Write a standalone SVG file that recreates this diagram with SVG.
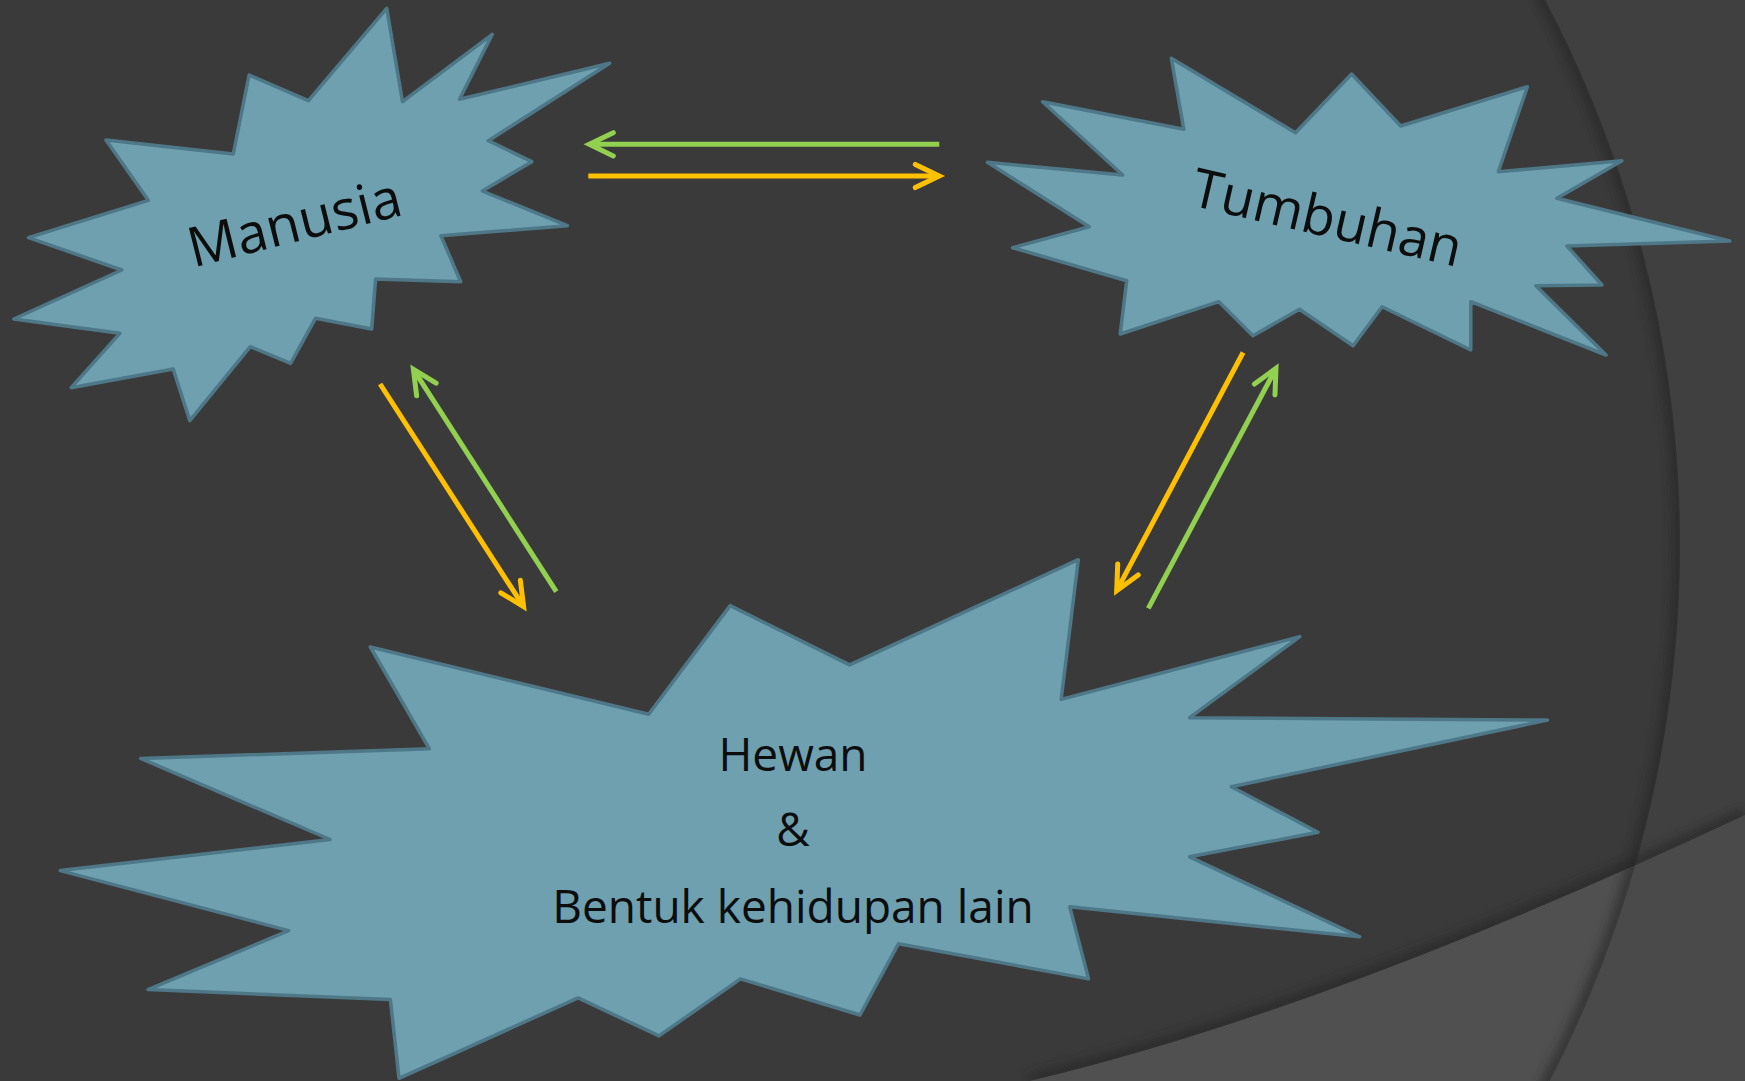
<svg xmlns="http://www.w3.org/2000/svg" width="1745" height="1081" viewBox="0 0 1745 1081">
<defs>
<style>
.star{fill:#6EA0B0;stroke:#4E7887;stroke-width:3.5;stroke-linejoin:round}
.lbl{font-family:"Open Sans","Noto Sans","Liberation Sans",sans-serif;fill:#0D0D0D}
.g{stroke:#92D050;stroke-width:5;fill:none}
.y{stroke:#FFC000;stroke-width:5;fill:none}
</style>
<clipPath id="circ"><circle cx="512" cy="545" r="1168"/></clipPath>
<filter id="blur" x="-10%" y="-10%" width="120%" height="120%"><feGaussianBlur stdDeviation="5"/></filter>
<marker id="ag" markerUnits="userSpaceOnUse" orient="auto" refX="0" refY="0" markerWidth="40" markerHeight="40" viewBox="-30 -20 40 40" overflow="visible">
<path d="M-24,-11.6 L0,0 L-24,11.6" fill="none" stroke="#92D050" stroke-width="5" stroke-linecap="round" stroke-linejoin="miter"/>
</marker>
<marker id="ay" markerUnits="userSpaceOnUse" orient="auto" refX="0" refY="0" markerWidth="40" markerHeight="40" viewBox="-30 -20 40 40" overflow="visible">
<path d="M-24,-11.6 L0,0 L-24,11.6" fill="none" stroke="#FFC000" stroke-width="5" stroke-linecap="round" stroke-linejoin="miter"/>
</marker>
</defs>

<g id="background">
<rect x="0" y="0" width="1745" height="1081" fill="#404040"/>
<circle cx="512" cy="545" r="1168" fill="#3A3A3A"/>
<path d="M1030,1081 Q1330,1010 1745,815" fill="none" stroke="#262626" stroke-width="16" opacity="0.6" filter="url(#blur)"/>
<path d="M1030,1081 Q1330,1010 1745,815 L1745,1081 Z" fill="#4A4A4A"/>
<g clip-path="url(#circ)">
<path d="M1030,1081 Q1330,1010 1745,815 L1745,1081 Z" fill="#505050"/>
<circle cx="512" cy="545" r="1168" fill="none" stroke="#262626" stroke-width="16" opacity="0.6" filter="url(#blur)"/>
</g>
</g>

<g id="node-manusia">
<polygon class="star" points="386.7,8.3 402.5,101.7 492.3,34.3 459.5,99.3 609.7,63.3 488.3,140.7 531.8,161.7 482.4,191 567.4,225.7 440.9,235.7 460.7,281.7 375.6,279 371.7,329 315.5,318.3 290.6,363.3 250.3,346.7 189.8,420.7 173.2,369 71.2,387.7 119.8,333.3 13.8,319 121.8,270 28.5,237.7 148.3,200.3 106,140 233.3,154 249.1,75 308.4,100.7"/>
<text class="lbl" x="299" y="241" font-size="55" text-anchor="middle" transform="rotate(-14 299 241)">Manusia</text>
</g>

<g id="node-tumbuhan">
<polygon class="star" points="1171.3,58.3 1295.5,132.7 1351.6,74 1400.7,126 1527.4,86.7 1498.3,171.7 1622,160.7 1556.9,198.3 1729.7,241 1566.9,246 1602,285 1535.9,285.7 1606,355 1470.8,301.7 1470.8,350 1382.1,306.7 1353.1,345.7 1299.5,309.3 1252.9,335.7 1218.9,301.7 1120.2,334 1126.7,280.7 1012.6,247.7 1089.2,226.7 987.5,162.3 1122.7,175 1042.6,101.7 1183.8,129.3"/>
<text class="lbl" x="1323" y="236" font-size="54" text-anchor="middle" transform="rotate(13 1323 236)">Tumbuhan</text>
</g>

<g id="node-hewan">
<polygon class="star" points="730.2,605.6 849.6,664.9 1078.3,559.7 1061.2,699.4 1299.8,636.6 1189.6,717.7 1547.5,720.1 1231.3,786.7 1318,832.3 1189.6,856.8 1359.7,936.8 1069.7,906.8 1088.6,978.9 898.5,943.7 860,1015 740.5,978.9 659,1035.9 578.1,997.9 399,1078.3 390.4,999.6 148.1,989.6 288.7,930.6 60.3,870.6 330.1,839.5 140.6,758.4 429.4,748.8 370.3,647 648.7,714.3"/>
<text class="lbl" x="793" y="771" font-size="46" text-anchor="middle">Hewan</text>
<text class="lbl" x="793" y="846" font-size="46" text-anchor="middle">&amp;</text>
<text class="lbl" x="793" y="923" font-size="46" text-anchor="middle">Bentuk kehidupan lain</text>
</g>

<g id="connectors">
<path class="g" d="M939.3,144.3 L589.3,144.3" marker-end="url(#ag)"/>
<path class="y" d="M588.3,176 L939.3,176" marker-end="url(#ay)"/>
<path class="y" d="M380.1,384 L523.6,606.7" marker-end="url(#ay)"/>
<path class="g" d="M556.3,591.7 L413.4,369.3" marker-end="url(#ag)"/>
<path class="y" d="M1243.1,352.5 L1116.7,590.7" marker-end="url(#ay)"/>
<path class="g" d="M1148.3,608.3 L1276,368.3" marker-end="url(#ag)"/>
</g>
</svg>
